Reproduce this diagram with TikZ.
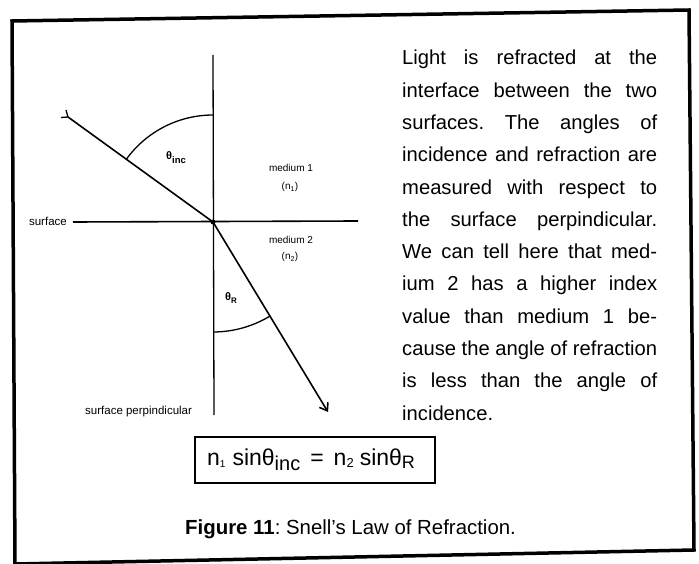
\documentclass[tikz,border=0pt]{standalone}
\usepackage{fontspec}
\setmainfont{Liberation Sans}
\usetikzlibrary{arrows.meta}
\frenchspacing
\newcommand{\jline}[1]{{\spaceskip=0pt\xspaceskip=0pt\makebox[255pt][s]{#1}}}
\tikzset{
  frame/.style={line width=3.5pt, line join=miter},
  axisline/.style={line width=1.3pt},
  ray/.style={line width=1.6pt},
  anglearc/.style={line width=1.3pt},
  medlbl/.style={font=\fontsize{10}{12}\selectfont, inner sep=0pt},
  surflbl/.style={font=\fontsize{11.5}{13}\selectfont, inner sep=0pt},
  anglelbl/.style={font=\fontsize{11}{13}\selectfont\bfseries, inner sep=0pt, anchor=west},
  bodytext/.style={font=\fontsize{20.2}{32.3}\selectfont\frenchspacing, inner sep=0pt, text width=255pt, align=left, anchor=north west},
  eqbox/.style={draw, line width=1.3pt, minimum width=240pt, minimum height=46pt, inner sep=0pt},
}
\begin{document}
\begin{tikzpicture}[x=1pt,y=1pt]
\useasboundingbox (0,0) rectangle (699,-564);
% frame
\draw[frame] (12,-21) -- (689,-10) -- (694,-550) -- (15,-564) -- cycle;
% coordinates
\coordinate (O) at (213,-222);
\coordinate (pt) at (213,-55);
\coordinate (pb) at (214,-415);
\coordinate (sl) at (73,-222);
\coordinate (sr) at (358,-221);
\coordinate (src) at (68,-117);
\coordinate (dst) at (328,-412);
% lines
\draw[axisline] (pt) -- (pb);
\draw[ray] (sl) -- (sr);
\draw[ray] (src) -- (O);
\draw[ray, -{Straight Barb[length=7pt,width=10pt]}] (O) -- (dst);
\draw[line width=1.3pt] (src) -- ++(-7,-0.5);
\draw[line width=1.3pt] (src) -- ++(-2,7);
\fill (O) circle (2.5pt);
% arcs
\draw[anglearc] (O) ++(90:107) arc[start angle=90, end angle=144, radius=107pt];
\draw[anglearc] (O) ++(-90:110) arc[start angle=-90, end angle=-59, radius=110pt];
% labels
\node[anglelbl] (tinc) at (166,-158) {θ\raisebox{-4pt}{\fontsize{9.5}{10}\selectfont inc}};
\node[anglelbl] (tR) at (225,-298) {θ\raisebox{-3pt}{\fontsize{8}{9}\selectfont R}};
\node[medlbl] (m1) at (291,-168) {medium 1};
\node[medlbl] (n1) at (290,-187) {(n\textsubscript{1})};
\node[medlbl] (m2) at (291,-240) {medium 2};
\node[medlbl] (n2) at (290,-257) {(n\textsubscript{2})};
\node[surflbl, anchor=east] (surf) at (67,-221) {surface};
\node[surflbl, anchor=west] (perp) at (85,-412) {surface perpindicular};
% body text
\node[bodytext] (body) at (402,-42) {\strut\jline{Light is refracted at the}\\
\jline{interface between the two}\\
\jline{surfaces. The angles of}\\
\jline{incidence and refraction are}\\
\jline{measured with respect to}\\
\jline{the surface perpindicular.}\\
\jline{We can tell here that med-}\\
\jline{ium 2 has a higher index}\\
\jline{value than medium 1 be-}\\
\jline{cause the angle of refraction}\\
\jline{is less than the angle of}\\
incidence.};
% equation
\node[eqbox] (eq) at (315,-460) {};
\node[anchor=base west, inner sep=0pt, font=\fontsize{23}{26}\selectfont] (eqtext) at (207,-465) {n\raisebox{-2pt}{\fontsize{10}{10}\selectfont 1}\hspace{7pt}sinθ\raisebox{-5pt}{\fontsize{20}{20}\selectfont inc}\hspace{10pt}=\hspace{10pt}n\raisebox{-2pt}{\fontsize{13}{13}\selectfont 2}\hspace{6pt}sinθ\raisebox{-3pt}{\fontsize{18}{18}\selectfont R}};
% caption
\node[anchor=base west, inner sep=0pt, font=\fontsize{20.4}{24}\selectfont] (cap) at (185,-534) {\textbf{Figure 11}: Snell's Law of Refraction.};
\end{tikzpicture}
\end{document}
